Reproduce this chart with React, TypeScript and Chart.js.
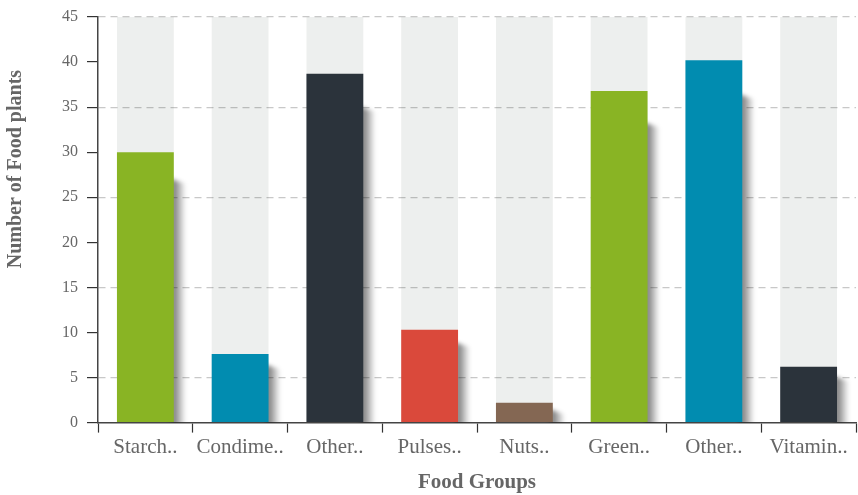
import React, { useEffect, useRef } from 'react';
import { Chart, registerables } from 'chart.js';

Chart.register(...registerables);

const categories = ['Starch..', 'Condime..', 'Other..', 'Pulses..', 'Nuts..', 'Green..', 'Other..', 'Vitamin..'];
const values = [30, 7.6, 38.7, 10.3, 2.2, 36.8, 40.2, 6.2];
const backgroundValues = [45, 45, 45, 45, 45, 45, 45, 45];
const barColors = ['#89b424', '#018cb0', '#2b333b', '#da493b', '#846753', '#89b424', '#018cb0', '#2b333b'];
const yMin = 0;
const yMax = 45;
const yStep = 5;
const xTitle = 'Food Groups';
const yTitle = 'Number of Food plants';

const FONT = '"Liberation Serif", "Times New Roman", serif';

const shadowPlugin = {
  id: 'barShadow',
  beforeDatasetDraw(chart: any, args: any) {
    if (args.index !== 0) return;
    const { ctx, chartArea } = chart;
    ctx.save();
    ctx.beginPath();
    ctx.rect(chartArea.left, chartArea.top, chartArea.right - chartArea.left, chartArea.bottom - chartArea.top);
    ctx.clip();
    ctx.filter = 'blur(2px)';
    args.meta.data.forEach((bar: any) => {
      const { x, y, base, width } = bar.getProps(['x', 'y', 'base', 'width'], true);
      const r = x + width / 2;
      const h = base - y;
      const off = 5 + h * 0.08;
      const g = ctx.createLinearGradient(r, 0, r + 12, 0);
      g.addColorStop(0, 'rgba(0,0,0,0.5)');
      g.addColorStop(1, 'rgba(0,0,0,0)');
      ctx.fillStyle = g;
      ctx.beginPath();
      ctx.moveTo(r - 3, y + off);
      ctx.lineTo(r + 12, y + off + 5);
      ctx.lineTo(r + 12, base + 4);
      ctx.lineTo(r - 3, base + 4);
      ctx.closePath();
      ctx.fill();
    });
    ctx.restore();
  },
};

const yTitlePlugin = {
  id: 'yTitleCustom',
  afterDraw(chart: any) {
    const { ctx, chartArea } = chart;
    ctx.save();
    ctx.translate(16, chartArea.top + (chartArea.bottom - chartArea.top) * 0.375);
    ctx.rotate(-Math.PI / 2);
    ctx.font = 'bold 20px ' + FONT;
    ctx.fillStyle = '#666666';
    ctx.textAlign = 'center';
    ctx.textBaseline = 'middle';
    ctx.fillText(yTitle, 0, 0);
    ctx.restore();
  },
};

export default function App() {
  const canvasRef = useRef<HTMLCanvasElement | null>(null);

  useEffect(() => {
    document.body.style.margin = '0';
    const canvas = canvasRef.current;
    if (!canvas) return;
    const chart = new Chart(canvas, {
      type: 'bar',
      data: {
        labels: categories,
        datasets: [
          {
            data: values,
            backgroundColor: barColors,
            grouped: false,
            order: 0,
            clip: 0,
            categoryPercentage: 1,
            barPercentage: 0.6,
          } as any,
          {
            data: backgroundValues,
            backgroundColor: 'rgba(0,25,10,0.07)',
            grouped: false,
            order: 1,
            categoryPercentage: 1,
            barPercentage: 0.6,
          } as any,
        ],
      },
      options: {
        animation: false,
        responsive: true,
        maintainAspectRatio: false,
        layout: { padding: { left: 53, top: -3, right: 2, bottom: 0 } },
        plugins: {
          legend: { display: false },
          tooltip: { enabled: false },
        },
        scales: {
          x: {
            grid: {
              display: true,
              offset: true,
              drawOnChartArea: false,
              drawTicks: true,
              tickLength: 10,
              tickColor: '#333333',
              tickWidth: 1.2,
            },
            border: { display: true, color: '#444444', width: 1.5 },
            ticks: {
              autoSkip: false,
              maxRotation: 0,
              minRotation: 0,
              padding: 2,
              color: '#666666',
              font: { family: FONT, size: 21 },
            },
            title: {
              display: true,
              text: xTitle,
              color: '#666666',
              font: { family: FONT, size: 21, weight: 'bold' },
              padding: { top: 8, bottom: 0 },
            },
          },
          y: {
            min: yMin,
            max: yMax,
            grid: {
              display: true,
              drawOnChartArea: true,
              drawTicks: true,
              tickLength: 11,
              tickColor: '#333333',
              tickWidth: 1.2,
              color: (c: any) => (c.tick && c.tick.value % 10 === 5 ? '#c8c8c8' : 'rgba(0,0,0,0)'),
              lineWidth: 1.2,
            },
            border: { display: true, color: '#444444', width: 1.5, dash: [7, 5] },
            ticks: {
              stepSize: yStep,
              padding: 9,
              color: '#666666',
              font: { family: FONT, size: 16, lineHeight: 1 },
            },
          },
        },
      },
      plugins: [shadowPlugin, yTitlePlugin],
    });
    return () => chart.destroy();
  }, []);

  return (
    <div style={{ position: 'relative', width: '858px', height: '495px' }}>
      <canvas ref={canvasRef} />
    </div>
  );
}
